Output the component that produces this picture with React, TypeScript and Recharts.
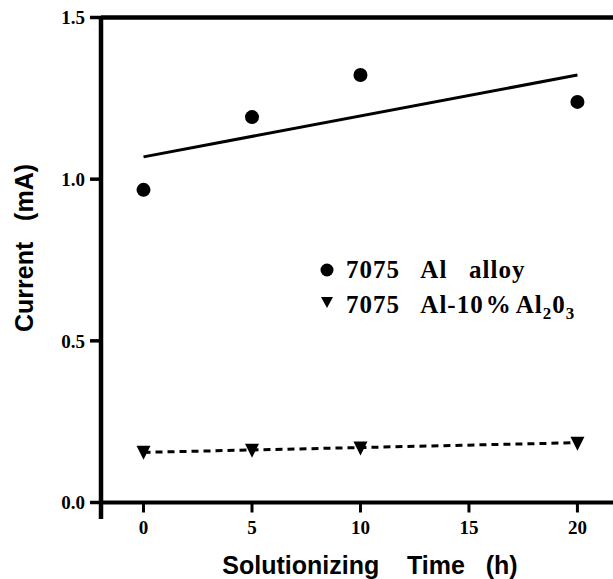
import React from 'react';
import { ComposedChart, Scatter, XAxis, YAxis, ReferenceLine, Label } from 'recharts';

// solutionizing time (h) and measured current (mA)
const times = [0, 5, 10, 20];
const alloyCurrent = [0.967, 1.192, 1.322, 1.239];
const compositeCurrent = [0.157, 0.163, 0.17, 0.185];

// straight-line fits, read at both ends
const fitTimes = [0, 20];
const alloyFit = [1.069, 1.322];
const compositeFit = [0.155, 0.185];

const xTicks = [0, 5, 10, 15, 20];
const yTicks = [0, 0.5, 1.0, 1.5];

const X_MIN = -1.96;
const X_MAX = 21.64;

const toPoints = (xs: number[], ys: number[]) => xs.map((x, i) => ({ x, y: ys[i] }));

const alloyData = toPoints(times, alloyCurrent);
const compositeData = toPoints(times, compositeCurrent);
const alloyFitData = toPoints(fitTimes, alloyFit);
const compositeFitData = toPoints(fitTimes, compositeFit);

const tickFont = {
  fontFamily: '"Liberation Serif", serif',
  fontWeight: 'bold',
  fontSize: 19,
  fill: '#000',
};

const titleFont = {
  fontFamily: '"Liberation Sans", Arial, sans-serif',
  fontWeight: 'bold',
  fontSize: 25,
  fill: '#000',
  whiteSpace: 'pre' as const,
};

const legendFont = { ...tickFont, fontSize: 25, letterSpacing: 1, whiteSpace: 'pre' as const };

const Dot = (props: any) => <circle cx={props.cx} cy={props.cy} r={7} fill="#000" />;

const DownTriangle = (props: any) => {
  const { cx, cy } = props;
  return <path d={`M${cx - 7},${cy - 6} L${cx + 7},${cy - 6} L${cx},${cy + 8} Z`} fill="#000" />;
};

const NoShape = () => <g />;

const Legend = () => (
  <svg width={613} height={579} style={{ position: 'absolute', left: 0, top: 0, pointerEvents: 'none' }}>
    <circle cx={327} cy={270} r={6.5} fill="#000" />
    <text x={346} y={278} style={legendFont}>7075   Al   alloy</text>
    <path d="M321,297 L333,297 L327,308 Z" fill="#000" />
    <text x={346} y={313} style={legendFont}>
      7075   Al-10<tspan dx={2}>%</tspan>
      <tspan dx={4}>Al</tspan>
      <tspan dy={6} fontSize={17}>2</tspan>
      <tspan dy={-6}>0</tspan>
      <tspan dy={6} fontSize={17}>3</tspan>
    </text>
  </svg>
);

export default function App() {
  return (
    <div style={{ position: 'absolute', left: 0, top: 0, width: 613, height: 579, background: '#fff' }}>
      <ComposedChart width={613} height={579} margin={{ top: 17.5, right: 0, bottom: 0, left: 0 }}>
        <XAxis
          type="number"
          dataKey="x"
          domain={[X_MIN, X_MAX]}
          ticks={xTicks}
          allowDataOverflow
          height={76.5}
          tickSize={10}
          tickMargin={8}
          axisLine={{ stroke: '#000', strokeWidth: 4 }}
          tickLine={{ stroke: '#000', strokeWidth: 3 }}
          tick={tickFont}
        >
          <Label
            content={() => (
              <text x={370} y={574} textAnchor="middle" style={titleFont}>
                Solutionizing    Time   (h)
              </text>
            )}
          />
        </XAxis>
        <YAxis
          type="number"
          dataKey="y"
          domain={[0, 1.5]}
          ticks={yTicks}
          allowDataOverflow
          width={101}
          tickSize={11}
          tickMargin={5}
          tickFormatter={(v: number) => v.toFixed(1)}
          axisLine={{ stroke: '#000', strokeWidth: 4.5 }}
          tickLine={{ stroke: '#000', strokeWidth: 3.5 }}
          tick={tickFont}
        >
          <Label
            content={() => (
              <text
                x={33}
                y={248}
                textAnchor="middle"
                transform="rotate(-90 33 248)"
                style={titleFont}
              >
                Current   (mA)
              </text>
            )}
          />
        </YAxis>
        <ReferenceLine y={1.5} stroke="#000" strokeWidth={4.5} ifOverflow="visible" />
        <ReferenceLine
          segment={[{ x: X_MIN, y: 0 }, { x: X_MIN, y: -0.051 }]}
          stroke="#000"
          strokeWidth={4.5}
          ifOverflow="visible"
        />
        <Scatter
          data={alloyFitData}
          line={{ stroke: '#000', strokeWidth: 3 }}
          shape={NoShape}
          isAnimationActive={false}
        />
        <Scatter
          data={compositeFitData}
          line={{ stroke: '#000', strokeWidth: 3, strokeDasharray: '7 5' }}
          shape={NoShape}
          isAnimationActive={false}
        />
        <Scatter data={alloyData} shape={Dot} isAnimationActive={false} />
        <Scatter data={compositeData} shape={DownTriangle} isAnimationActive={false} />
      </ComposedChart>
      <Legend />
    </div>
  );
}
